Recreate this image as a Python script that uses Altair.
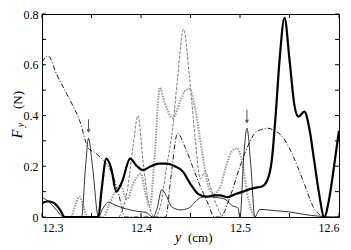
import altair as alt
import pandas as pd

# ---- data ----
thick_x = [12.300, 12.306, 12.312, 12.318, 12.323, 12.357, 12.360, 12.365, 12.370, 12.375,
           12.381, 12.389, 12.396, 12.402, 12.410, 12.418, 12.426, 12.434, 12.442, 12.450,
           12.458, 12.466, 12.474, 12.480, 12.487, 12.495, 12.503, 12.510, 12.515, 12.522,
           12.527, 12.532, 12.536, 12.540, 12.545, 12.550, 12.555, 12.559, 12.565, 12.570,
           12.575, 12.580, 12.585, 12.590, 12.595, 12.600]
thick_v = [0.055, 0.062, 0.055, 0.030, 0.0, 0.0, 0.10, 0.23, 0.19, 0.10,
           0.14, 0.23, 0.20, 0.185, 0.20, 0.21, 0.21, 0.20, 0.18, 0.13,
           0.09, 0.08, 0.085, 0.085, 0.078, 0.09, 0.10, 0.11, 0.115, 0.12,
           0.14, 0.22, 0.40, 0.62, 0.785, 0.62, 0.44, 0.395, 0.415, 0.35,
           0.22, 0.09, 0.0, 0.07, 0.20, 0.34]

thin_x = [12.300, 12.307, 12.314, 12.322, 12.340, 12.344, 12.347, 12.351, 12.357,
          12.361, 12.367, 12.375, 12.385, 12.395, 12.405, 12.412,
          12.416, 12.421, 12.426, 12.431, 12.440, 12.448, 12.455, 12.460, 12.468,
          12.476, 12.485, 12.492, 12.498, 12.500, 12.504, 12.507, 12.511, 12.515,
          12.520, 12.535, 12.550, 12.565, 12.580, 12.600]
thin_v = [0.077, 0.06, 0.03, 0.0, 0.0, 0.2, 0.31, 0.2, 0.0,
          0.03, 0.058, 0.045, 0.032, 0.023, 0.018, 0.0,
          0.03, 0.108, 0.08, 0.04, 0.028, 0.035, 0.06, 0.077, 0.08,
          0.077, 0.07, 0.045, 0.035, 0.0, 0.25, 0.35, 0.2, 0.0,
          0.03, 0.025, 0.02, 0.01, 0.003, 0.0]

dot_x = [12.330, 12.334, 12.338, 12.342, 12.346, 12.362, 12.368, 12.374, 12.379, 12.386,
         12.392, 12.400, 12.404, 12.409, 12.414, 12.419, 12.424, 12.432, 12.440, 12.445,
         12.449, 12.455, 12.462, 12.468, 12.473, 12.480, 12.486, 12.492, 12.497, 12.502,
         12.507, 12.512, 12.516]
dot_v = [0.0, 0.05, 0.08, 0.04, 0.0, 0.0, 0.05, 0.10, 0.125, 0.07,
         0.13, 0.17, 0.10, 0.04, 0.25, 0.51, 0.45, 0.39, 0.46, 0.50,
         0.505, 0.42, 0.25, 0.12, 0.09, 0.12, 0.20, 0.26, 0.27, 0.22,
         0.10, 0.02, 0.0]

dash_x = [12.378, 12.386, 12.392, 12.397, 12.402, 12.408, 12.414, 12.420, 12.426, 12.432,
          12.437, 12.443, 12.449, 12.455, 12.460, 12.465, 12.470, 12.476, 12.482]
dash_v = [0.0, 0.10, 0.28, 0.40, 0.22, 0.05, 0.0, 0.05, 0.20, 0.35,
          0.55, 0.74, 0.55, 0.30, 0.15, 0.18, 0.12, 0.05, 0.0]

dd_x = [12.300, 12.306, 12.315, 12.325, 12.331, 12.338, 12.347, 12.353, 12.359, 12.365,
        12.371, 12.378, 12.384, 12.425, 12.430, 12.437, 12.444, 12.452, 12.460, 12.468,
        12.474, 12.480, 12.490, 12.500, 12.508, 12.515, 12.522, 12.528, 12.535, 12.542,
        12.550, 12.558, 12.566, 12.574, 12.580, 12.584]
dd_v = [0.61, 0.635, 0.56, 0.485, 0.44, 0.38, 0.27, 0.255, 0.235, 0.21,
        0.17, 0.08, 0.0, 0.0, 0.15, 0.33, 0.28, 0.20, 0.12, 0.05,
        0.0, 0.0, 0.08, 0.20, 0.28, 0.33, 0.345, 0.35, 0.34, 0.32,
        0.27, 0.20, 0.12, 0.04, 0.01, 0.0]

arrow_x = [12.347, 12.507]
arrow_top = [0.385, 0.423]
arrow_bottom = [0.335, 0.372]

x_label_values = [12.3, 12.4, 12.5, 12.6]
y_label_values = [0, 0.2, 0.4, 0.6, 0.8]
x_tick_values = [12.30, 12.35, 12.40, 12.45, 12.50, 12.55, 12.60]
y_tick_values = [0, 0.1, 0.2, 0.3, 0.4, 0.5, 0.6, 0.7, 0.8]

W, H = 297, 203
FONT = "Liberation Serif"

xs = alt.Scale(domain=[12.3, 12.6], nice=False, zero=False)
ys = alt.Scale(domain=[0, 0.8], nice=False)
xaxis = alt.Axis(values=x_label_values, format=".1f", ticks=False, domain=False, grid=False,
                 title=None, labelFont=FONT, labelFontSize=12, labelColor="black",
                 labelPadding=5)
yaxis = alt.Axis(values=y_label_values,
                 labelExpr="datum.value == 0 ? '0' : format(datum.value, '.1f')",
                 ticks=False, domain=False, grid=False, title=None, labelFont=FONT,
                 labelFontSize=12, labelColor="black", labelPadding=4)

def X(f="x"):
    return alt.X(f + ":Q", scale=xs, axis=xaxis)

def Y(f="v"):
    return alt.Y(f + ":Q", scale=ys, axis=yaxis)

def line(xv, vv, **kw):
    df = pd.DataFrame({"x": xv, "v": vv})
    return alt.Chart(df).mark_line(interpolate="monotone", clip=True, **kw).encode(x=X(), y=Y())

l_dd = line(dd_x, dd_v, color="black", strokeWidth=0.9, strokeDash=[5, 2, 1, 2])
l_dash = line(dash_x, dash_v, color="#7a7a7a", strokeWidth=1.0, strokeDash=[3, 1.5])
l_dot = line(dot_x, dot_v, color="#9a9a9a", strokeWidth=2.0, strokeDash=[1.5, 1.2])
l_thin = line(thin_x, thin_v, color="black", strokeWidth=0.8)
l_thick = line(thick_x, thick_v, color="black", strokeWidth=2.2)

adf = pd.DataFrame({"x": arrow_x, "v": arrow_top, "v2": arrow_bottom})
arrow_shaft = alt.Chart(adf).mark_rule(color="#555", strokeWidth=1).encode(
    x=X(), y=Y(), y2="v2:Q")
arrow_head = alt.Chart(adf).mark_point(shape="triangle-down", filled=True, size=18,
                                       color="#555", opacity=1, yOffset=-1).encode(
    x=X(), y=Y("v2"))

xt = pd.DataFrame({"x": x_tick_values})
yt = pd.DataFrame({"v": y_tick_values})
tick_b = alt.Chart(xt).mark_rule(color="black", strokeWidth=1).encode(
    x=X(), y=alt.value(H), y2=alt.value(H - 4))
tick_t = alt.Chart(xt).mark_rule(color="black", strokeWidth=1).encode(
    x=X(), y=alt.value(0), y2=alt.value(4))
tick_l = alt.Chart(yt).mark_rule(color="black", strokeWidth=1).encode(
    y=Y(), x=alt.value(0), x2=alt.value(4))
tick_r = alt.Chart(yt).mark_rule(color="black", strokeWidth=1).encode(
    y=Y(), x=alt.value(W), x2=alt.value(W - 4))

def txt(s, x, y, **kw):
    return alt.Chart(pd.DataFrame({"t": [s]})).mark_text(font=FONT, color="black", **kw).encode(
        text="t:N", x=alt.value(x), y=alt.value(y))

xt1 = txt("y", 136, 228, fontSize=14, fontStyle="italic", align="center", baseline="alphabetic")
xt2 = txt("(cm)", 146, 228, fontSize=13, align="left", baseline="alphabetic")
yt1 = txt("F", -24, 120, fontSize=14, fontStyle="italic", angle=270, align="center", baseline="middle")
yt2 = txt("y", -21, 111, fontSize=10, fontStyle="italic", angle=270, align="center", baseline="middle")
yt3 = txt("(N)", -24, 86, fontSize=13, angle=270, align="center", baseline="middle")

chart = alt.layer(
    l_dd, l_dash, l_dot, l_thin, l_thick, arrow_shaft, arrow_head,
    tick_b, tick_t, tick_l, tick_r, xt1, xt2, yt1, yt2, yt3
).properties(
    width=W, height=H,
    padding={"left": 34, "top": 6, "right": 4, "bottom": 33},
    autosize=alt.AutoSizeParams(type="none"),
    background="white",
).configure_view(stroke="black", strokeWidth=1)

chart.save("out.html", embed_options={"renderer": "svg", "actions": False})
